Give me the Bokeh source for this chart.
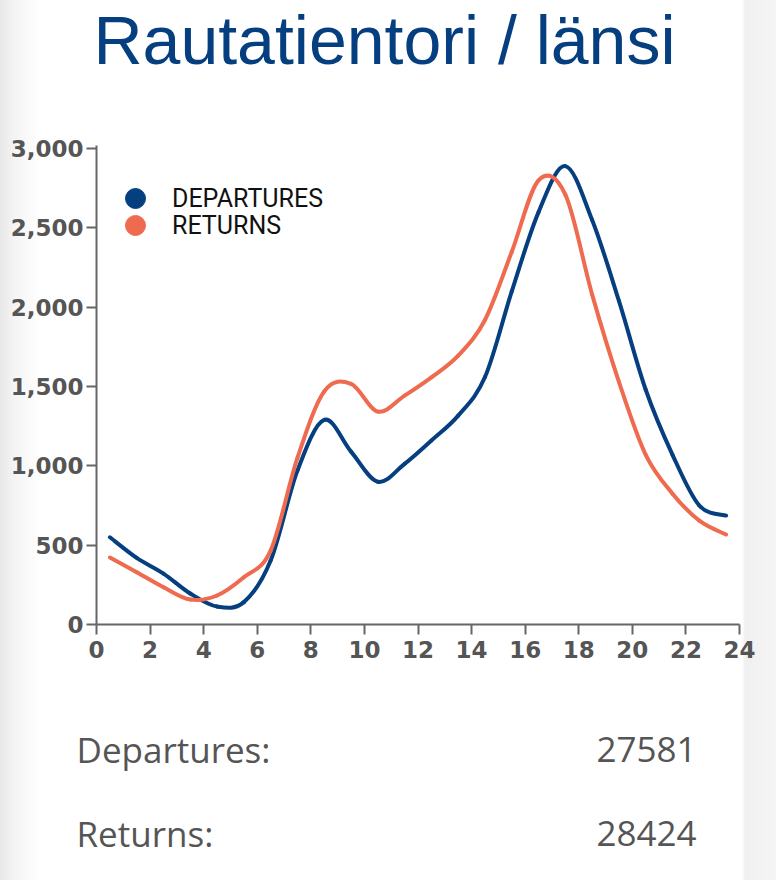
from bokeh.plotting import figure
from bokeh.layouts import column
from bokeh.models import (Range1d, FixedTicker, NumeralTickFormatter,
                          Legend, LegendItem, ColumnDataSource)
from bokeh.core.properties import value
from bokeh.embed import file_html
from bokeh.resources import INLINE
import numpy as np

# ---------------- data ----------------
hours = [0.5 + i for i in range(24)]
departures = [550, 420, 321, 195, 113, 141, 403, 970, 1290, 1090, 900, 1013,
              1160, 1317, 1560, 2100, 2600, 2890, 2550, 2040, 1480, 1070, 750, 687]
returns = [422, 330, 235, 157, 183, 298, 466, 1050, 1470, 1517, 1342, 1443,
           1558, 1695, 1920, 2350, 2800, 2710, 2080, 1530, 1070, 825, 655, 567]
x_ticks = list(range(0, 25, 2))
y_ticks = [0, 500, 1000, 1500, 2000, 2500, 3000]
title_text = "Rautatientori / länsi"
series_names = ["DEPARTURES", "RETURNS"]
series_colors = ["#053f7f", "#ee6b4f"]
totals_labels = ["Departures:", "Returns:"]
totals = [27581, 28424]

# ---------------- helpers ----------------
def catmull_rom_bezier(x, y):
    """Control points of a Catmull-Rom curve through the data, as cubic Bezier segments."""
    x = np.asarray(x, float)
    y = np.asarray(y, float)
    xp = np.concatenate([[x[0]], x, [x[-1]]])
    yp = np.concatenate([[y[0]], y, [y[-1]]])
    n = len(x)
    i = np.arange(n - 1)
    p0x, p1x, p2x, p3x = xp[i], xp[i + 1], xp[i + 2], xp[i + 3]
    p0y, p1y, p2y, p3y = yp[i], yp[i + 1], yp[i + 2], yp[i + 3]
    return dict(
        x0=p1x, y0=p1y, x1=p2x, y1=p2y,
        cx0=p1x + (p2x - p0x) / 6.0, cy0=p1y + (p2y - p0y) / 6.0,
        cx1=p2x - (p3x - p1x) / 6.0, cy1=p2y - (p3y - p1y) / 6.0,
    )


def no_align(f):
    try:
        f.frame_align = False
    except Exception:
        pass


def clear_fills(f):
    f.background_fill_color = None
    f.border_fill_color = None
    f.outline_line_color = None


def text_panel(height):
    f = figure(width=776, height=height, output_backend="svg", toolbar_location=None,
               x_range=Range1d(0, 776), y_range=Range1d(height, 0),
               x_axis_type=None, y_axis_type=None, min_border=0,
               min_border_left=0, min_border_right=0, min_border_top=0,
               min_border_bottom=0)
    f.grid.visible = False
    clear_fills(f)
    no_align(f)
    return f


W = 776
TOP_H, MAIN_H, BOT_H = 100, 600, 180

# ---------------- title panel ----------------
top = text_panel(TOP_H)
top.text(x=[384], y=[39], text=[title_text], text_align="center",
         text_baseline="alphabetic", text_font=value("Liberation Sans"),
         text_font_size="68px", text_color=series_colors[0])

# ---------------- main chart ----------------
p = figure(width=W, height=MAIN_H, output_backend="svg", toolbar_location=None,
           x_range=Range1d(0, 24), y_range=Range1d(0, 3020),
           min_border_left=96, min_border_right=37,
           min_border_top=45, min_border_bottom=76)
no_align(p)
clear_fills(p)
p.grid.visible = False

axis_color = "#666666"
label_color = "#555555"
for ax in (p.xaxis[0], p.yaxis[0]):
    ax.axis_line_color = axis_color
    ax.axis_line_width = 2
    ax.major_tick_line_color = axis_color
    ax.major_tick_line_width = 2
    ax.major_tick_in = 0
    ax.major_tick_out = 10
    ax.minor_tick_line_color = None
    ax.major_label_text_color = label_color
    ax.major_label_text_font = "DejaVu Sans"
    ax.major_label_text_font_style = "bold"
    ax.major_label_text_font_size = "23px"

p.xaxis.ticker = FixedTicker(ticks=x_ticks)
p.yaxis.ticker = FixedTicker(ticks=y_ticks)
p.yaxis.formatter = NumeralTickFormatter(format="0,0")
p.xaxis.major_label_standoff = 6
p.yaxis.major_label_standoff = 3

for vals, col in zip([departures, returns], series_colors):
    src = ColumnDataSource(catmull_rom_bezier(hours, vals))
    p.bezier(x0="x0", y0="y0", x1="x1", y1="y1", cx0="cx0", cy0="cy0",
             cx1="cx1", cy1="cy1", source=src, line_color=col, line_width=4,
             line_cap="round")

# legend: one legend per series so the rows sit close together
legend_y = [401, 374]
for name, vals, col, ly in zip(series_names, [departures, returns], series_colors, legend_y):
    r = p.scatter(x=hours, y=vals, size=20, fill_color=col, line_color=col)
    r.visible = False
    lg = Legend(items=[LegendItem(label=name, renderers=[r])], location=(14, ly),
                glyph_width=50, glyph_height=50, padding=0, margin=0,
                label_standoff=12, background_fill_alpha=0, border_line_alpha=0,
                inactive_fill_alpha=0, click_policy="none",
                label_text_font="Roboto", label_text_font_size="25px",
                label_text_color="#111111")
    p.add_layout(lg)

# ---------------- totals panel ----------------
bot = text_panel(BOT_H)
base_y = [749 - (TOP_H + MAIN_H), 833 - (TOP_H + MAIN_H)]
bot.text(x=[76, 76], y=base_y, text=totals_labels, text_align="left",
         text_baseline="alphabetic", text_font=value("Open Sans"),
         text_font_size="35px", text_color="#555555")
bot.text(x=[696, 696], y=base_y, text=[str(t) for t in totals], text_align="right",
         text_baseline="alphabetic", text_font=value("Open Sans"),
         text_font_size="35px", text_color="#555555")

page_bg = ("linear-gradient(to right, #e8e8e8 0px, #f4f4f4 14px, #ffffff 42px, "
           "#ffffff 742px, #f0f0f0 745px, #f5f5f5 776px)")
layout = column(top, p, bot, spacing=0, width=W, height=TOP_H + MAIN_H + BOT_H,
                styles={"background": page_bg})
open("out.html", "w").write(file_html(layout, INLINE))
